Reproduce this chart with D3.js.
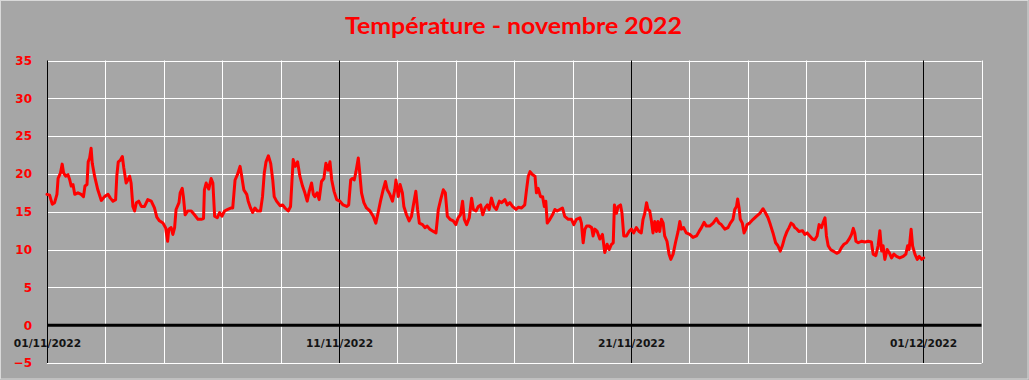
<!DOCTYPE html>
<html>
<head>
<meta charset="utf-8">
<script src="https://cdn.jsdelivr.net/npm/d3@7"></script>
<style>
html,body{margin:0;padding:0;background:#a6a6a6;}
svg{display:block;}
</style>
</head>
<body>
<svg id="chart" width="1029" height="380"></svg>
<script>
const title = "Température - novembre 2022";
const xTickDays = [0, 10, 20, 30];
const xTickLabels = ["01/11/2022", "11/11/2022", "21/11/2022", "01/12/2022"];
const yTicks = [-5, 0, 5, 10, 15, 20, 25, 30, 35];

// days since 01/11/2022 00:00
const days = [
0.00,0.09,0.18,0.26,0.34,0.38,0.46,0.52,0.57,0.64,0.72,0.78,0.83,0.89,0.95,1.06,1.17,1.25,1.30,1.37,1.41,1.46,1.51,1.55,1.63,1.74,1.86,1.97,2.09,2.17,2.26,2.35,2.39,2.44,2.51,2.58,2.63,2.71,2.77,2.83,2.88,2.94,3.00,3.06,3.14,3.23,3.34,3.45,3.57,3.68,3.76,3.85,3.97,4.06,4.13,4.17,4.25,4.31,4.37,4.42,4.52,4.56,4.63,4.67,4.73,4.82,4.94,5.05,5.17,5.28,5.36,5.39,5.45,5.54,5.62,5.68,5.74,5.83,5.91,5.99,6.08,6.19,6.31,
6.36,6.44,6.52,6.61,6.66,6.74,6.84,6.89,6.97,7.04,7.12,7.20,7.31,7.38,7.44,7.50,7.58,7.66,7.73,7.78,7.86,7.98,8.07,8.15,8.26,8.34,8.39,8.43,8.50,8.58,8.66,8.75,8.83,8.91,8.98,9.06,9.12,9.17,9.25,9.32,9.40,9.48,9.55,9.63,9.69,9.75,9.83,9.92,10.03,10.14,10.26,10.33,10.40,10.46,10.52,10.58,10.66,10.71,10.77,10.85,10.94,11.06,11.17,11.26,11.34,11.42,11.51,11.59,11.65,11.74,11.83,11.91,11.95,12.03,12.09,12.17,12.22,12.31,12.40,12.48,12.56,12.63,12.69,12.75,
12.86,12.94,13.02,13.11,13.23,13.32,13.40,13.48,13.57,13.64,13.71,13.80,13.91,14.00,14.08,14.16,14.23,14.29,14.37,14.46,14.54,14.60,14.69,14.77,14.85,14.92,15.00,15.08,15.14,15.22,15.30,15.39,15.49,15.57,15.68,15.76,15.85,15.94,16.06,16.14,16.25,16.36,16.42,16.48,16.54,16.63,16.71,16.76,16.82,16.90,16.97,17.03,17.08,17.13,17.22,17.31,17.39,17.47,17.56,17.65,17.73,17.85,17.96,18.04,18.13,18.25,18.30,18.36,18.42,18.48,18.57,18.65,18.70,18.76,18.84,18.93,19.02,19.10,19.18,19.25,19.33,19.39,
19.43,19.50,19.56,19.64,19.69,19.75,19.84,19.93,20.01,20.09,20.18,20.27,20.35,20.41,20.47,20.53,20.58,20.64,20.70,20.75,20.81,20.87,20.92,20.98,21.04,21.10,21.15,21.23,21.30,21.36,21.44,21.52,21.61,21.67,21.72,21.80,21.89,22.01,22.12,22.24,22.33,22.41,22.50,22.58,22.69,22.81,22.92,23.01,23.09,23.21,23.32,23.40,23.49,23.55,23.61,23.65,23.70,23.74,23.81,23.87,23.93,23.97,24.06,24.18,24.29,24.41,24.52,24.61,24.69,24.77,24.86,24.95,25.03,25.11,25.18,25.26,25.34,25.41,25.48,25.55,25.61,25.68,25.75,
25.87,25.95,26.03,26.12,26.21,26.29,26.37,26.44,26.52,26.58,26.64,26.69,26.75,26.83,26.92,27.04,27.13,27.21,27.29,27.38,27.47,27.55,27.61,27.66,27.70,27.78,27.89,28.01,28.12,28.23,28.29,28.38,28.46,28.52,28.58,28.63,28.69,28.77,28.84,28.92,29.00,29.09,29.20,29.32,29.41,29.47,29.52,29.59,29.64,29.72,29.80,29.87,29.95,30.02
];
const temps = [
17.3,17.2,16.0,16.2,17.3,19.4,20.1,21.3,20.1,19.7,19.9,19.2,18.4,18.6,17.3,17.5,17.3,17.0,18.4,18.6,21.6,22.1,23.4,21.4,19.7,17.9,16.5,17.0,17.3,16.8,16.4,16.6,19.7,21.6,21.8,22.3,20.8,18.8,19.2,19.7,18.8,15.7,15.1,16.2,16.4,15.7,15.7,16.6,16.4,15.5,14.3,13.8,13.5,12.9,11.1,12.7,12.9,12.0,12.9,15.3,16.2,17.5,18.1,17.0,14.6,15.1,15.1,14.6,14.0,14.0,14.1,17.9,18.8,18.0,19.4,18.8,14.4,14.2,14.9,14.4,15.1,15.3,15.5,
15.5,19.2,19.9,21.0,19.9,17.9,17.3,16.4,15.5,14.9,15.5,15.1,15.1,17.0,20.1,21.6,22.4,21.4,19.2,17.0,16.4,15.8,15.9,15.5,15.1,15.7,19.2,21.9,21.0,21.6,19.7,18.4,17.5,16.4,17.7,18.8,17.3,17.0,17.5,16.6,19.0,19.4,21.4,20.5,21.6,19.2,17.7,16.6,16.4,15.9,15.7,15.9,19.2,19.4,19.2,20.3,22.1,20.1,17.5,16.2,15.5,15.1,14.4,13.5,14.9,16.4,17.9,19.0,17.9,17.3,16.4,17.9,19.2,17.0,18.6,17.5,15.7,14.6,13.8,14.4,16.2,17.7,15.3,13.5,
13.3,12.9,13.1,12.7,12.4,12.2,15.3,16.6,17.9,17.5,14.4,14.0,13.8,13.3,14.2,14.6,16.4,14.0,13.3,14.2,16.8,15.3,15.1,15.7,15.9,14.6,15.5,15.9,15.3,16.8,15.7,15.3,16.4,16.2,16.6,15.9,16.2,15.7,15.3,15.6,15.5,15.9,17.9,19.7,20.3,19.9,19.7,17.5,18.1,17.0,17.0,15.7,16.4,13.5,14.0,14.6,15.3,15.1,15.3,15.5,14.4,14.0,14.0,13.3,14.0,14.2,13.5,10.9,12.7,13.1,13.1,12.9,11.8,12.7,12.4,11.4,12.0,9.6,10.7,10.0,10.7,10.9,
15.9,14.8,15.7,15.9,14.8,11.8,11.8,12.4,12.7,12.2,12.9,12.4,12.2,14.0,14.8,16.2,15.3,15.1,13.7,12.2,13.7,12.4,13.7,12.4,14.0,13.5,11.8,11.1,9.4,8.7,9.4,10.9,12.4,13.7,12.7,12.9,12.2,12.0,11.6,11.8,12.4,12.9,13.6,13.1,13.1,13.5,14.1,13.5,13.3,12.7,12.9,13.5,14.0,15.3,15.7,16.7,15.5,14.0,13.5,12.2,12.7,13.3,13.5,14.0,14.4,14.8,15.4,14.8,14.2,13.3,12.2,10.9,10.5,9.8,10.5,11.6,12.4,12.9,13.5,13.3,12.9,12.7,12.4,
12.5,12.0,12.2,11.8,11.4,11.3,11.8,13.3,12.9,13.6,14.2,11.8,10.5,10.0,9.8,9.5,9.7,10.3,10.7,10.9,11.4,12.0,12.8,12.2,11.1,10.9,11.1,11.0,11.1,11.0,9.4,9.2,10.5,12.5,9.8,10.5,8.7,10.0,9.6,8.9,9.4,9.1,8.9,9.1,9.4,10.5,10.0,12.7,10.5,9.4,8.7,9.1,8.7,8.9
];

const W = 1029, H = 380;
const svg = d3.select("#chart");

// outer frame
svg.append("rect").attr("x", 0.5).attr("y", 0.5).attr("width", W - 1.5).attr("height", H - 1.5)
  .attr("fill", "#a6a6a6").attr("stroke", "#d9d9d9").attr("stroke-width", 1);

const x = d3.scaleLinear().domain([0, 32]).range([47, 981.5]);
const y = d3.scaleLinear().domain([-5, 35]).range([363, 60.5]);

// vertical grid every 2 days
const vGrid = d3.range(0, 33, 2);
svg.append("g").selectAll("line").data(vGrid.filter(d => d % 10 !== 0)).join("line")
  .attr("x1", d => Math.round(x(d)) + 0.5).attr("x2", d => Math.round(x(d)) + 0.5)
  .attr("y1", y(35)).attr("y2", y(-5))
  .attr("stroke", "#ffffff").attr("stroke-width", 1);

// horizontal grid
svg.append("g").selectAll("line").data(yTicks.filter(d => d !== 0)).join("line")
  .attr("x1", x(0)).attr("x2", x(32))
  .attr("y1", d => Math.round(y(d)) + 0.5).attr("y2", d => Math.round(y(d)) + 0.5)
  .attr("stroke", "#ffffff").attr("stroke-width", 1);

// black verticals at 0,10,20,30
svg.append("g").selectAll("line").data(xTickDays).join("line")
  .attr("x1", d => Math.round(x(d)) + 0.5).attr("x2", d => Math.round(x(d)) + 0.5)
  .attr("y1", y(35)).attr("y2", y(-5))
  .attr("stroke", "#000000").attr("stroke-width", 1);

// zero line
svg.append("line").attr("x1", x(0)).attr("x2", x(32)).attr("y1", y(0)).attr("y2", y(0))
  .attr("stroke", "#000000").attr("stroke-width", 3);

// y axis labels
const yAxis = d3.axisLeft(y).tickValues(yTicks).tickSize(0).tickPadding(15);
const gy = svg.append("g").attr("transform", `translate(${x(0)},0)`).call(yAxis);
gy.select(".domain").remove();
gy.selectAll("text").attr("fill", "#ff0000")
  .style("font-family", "'DejaVu Sans', Verdana, sans-serif")
  .style("font-weight", "bold").style("font-size", "12px");

// x axis labels
const xAxis = d3.axisBottom(x).tickValues(xTickDays).tickSize(0).tickPadding(0)
  .tickFormat((d, i) => xTickLabels[i]);
const gx = svg.append("g").attr("transform", `translate(0,${y(0)})`).call(xAxis);
gx.select(".domain").remove();
gx.selectAll("text").attr("fill", "#141414").attr("dy", null).attr("y", 21.5)
  .style("font-family", "'DejaVu Sans', Verdana, sans-serif")
  .style("font-weight", "bold").style("font-size", "10.7px");

// data line
const pts = days.map((d, i) => [d, temps[i]]);
const line = d3.line().x(d => x(d[0])).y(d => y(d[1]));
svg.append("path").datum(pts).attr("d", line)
  .attr("fill", "none").attr("stroke", "#ff0000").attr("stroke-width", 3)
  .attr("stroke-linejoin", "round").attr("stroke-linecap", "round");

// title
svg.append("text").attr("x", 513.5).attr("y", 34.3).attr("text-anchor", "middle")
  .attr("fill", "#ff0000")
  .attr("textLength", 337).attr("lengthAdjust", "spacingAndGlyphs")
  .style("font-family", "Lato, 'Open Sans', sans-serif").style("font-weight", "bold")
  .style("font-size", "22px").text(title);
</script>
</body>
</html>
